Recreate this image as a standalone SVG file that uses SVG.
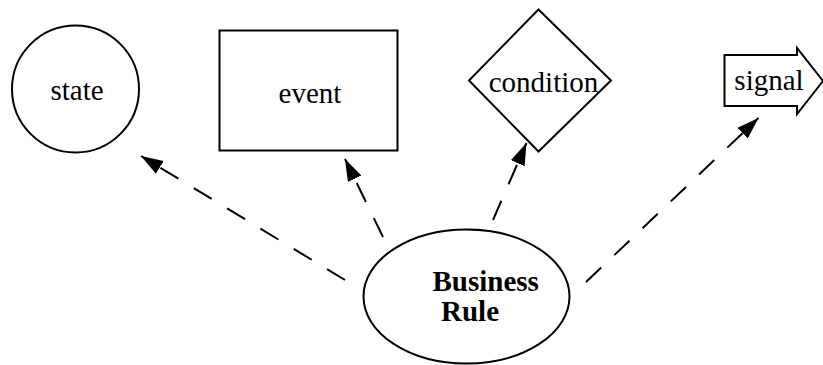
<svg xmlns="http://www.w3.org/2000/svg" width="823" height="365" viewBox="0 0 823 365">
<style>
.shape{fill:#fff;stroke:#000;stroke-width:2}
.lbl{font-family:"Liberation Serif","Times New Roman",serif;font-size:29px;fill:#000}
.bold{font-weight:bold}
.edge{fill:none;stroke:#000;stroke-width:2;stroke-dasharray:21 18}
</style>
<defs>
<marker id="arr" markerUnits="userSpaceOnUse" markerWidth="24" markerHeight="16" refX="22" refY="7.5" orient="auto" viewBox="0 0 24 16">
<path d="M0,0 L22,7.5 L0,15 Z" fill="#000"/>
</marker>
</defs>
<g id="state">
<circle class="shape" cx="75.5" cy="89" r="63.5"/>
<text class="lbl" x="77" y="100" text-anchor="middle">state</text>
</g>
<g id="event">
<rect class="shape" x="219.5" y="30.5" width="178" height="120"/>
<text class="lbl" x="310" y="103" text-anchor="middle">event</text>
</g>
<g id="condition">
<polygon class="shape" points="538.5,9.5 611,80.5 538.5,151.5 469,80.5"/>
<text class="lbl" x="543.5" y="92" text-anchor="middle">condition</text>
</g>
<g id="signal">
<polygon class="shape" points="724.5,55 797,55 797,48 823,81 797,114 797,106 724.5,106"/>
<text class="lbl" x="769" y="89.5" text-anchor="middle">signal</text>
</g>
<g id="business-rule">
<ellipse class="shape" cx="466.5" cy="296.5" rx="103" ry="67"/>
<text class="lbl bold" x="432.5" y="291">Business</text>
<text class="lbl bold" x="441" y="321">Rule</text>
</g>
<g id="connectors">
<line class="edge" x1="345" y1="280" x2="141" y2="156" marker-end="url(#arr)"/>
<line class="edge" x1="383" y1="237" x2="345" y2="159" marker-end="url(#arr)"/>
<line class="edge" x1="493" y1="220" x2="526.5" y2="143" marker-end="url(#arr)"/>
<line class="edge" x1="586" y1="282" x2="758.5" y2="118" marker-end="url(#arr)"/>
</g>
</svg>
